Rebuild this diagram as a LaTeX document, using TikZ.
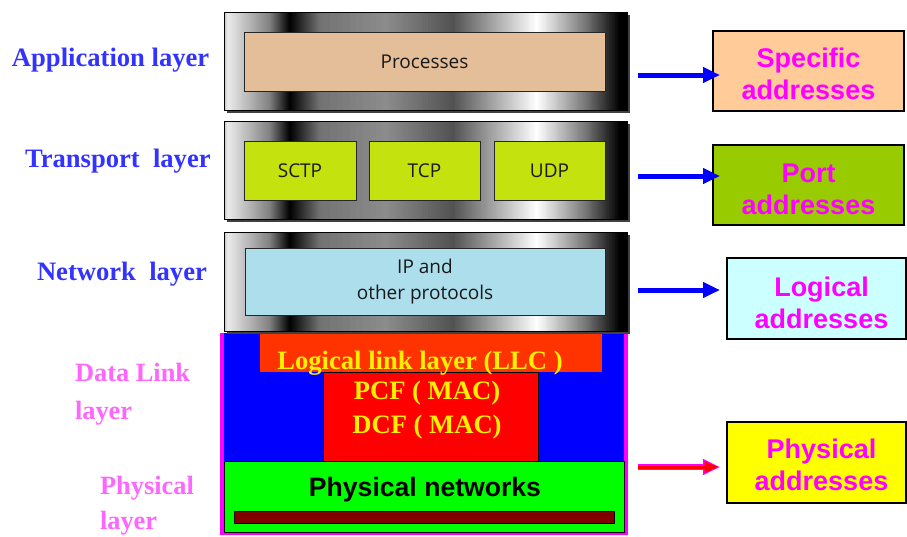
\documentclass[tikz,border=0pt]{standalone}
\usepackage{fontspec}
\setmainfont{Liberation Serif}
\newfontfamily\labelsans{Liberation Sans}
\newfontfamily\boxsans{Open Sans}
\usetikzlibrary{arrows.meta}

\definecolor{lblblue}{RGB}{51,51,255}
\definecolor{lblpink}{RGB}{255,102,255}
\definecolor{procfill}{RGB}{228,190,152}
\definecolor{transfill}{RGB}{196,226,14}
\definecolor{netfill}{RGB}{172,222,236}
\definecolor{llcorange}{RGB}{255,51,0}
\definecolor{barred}{RGB}{128,0,0}
\definecolor{specfill}{RGB}{255,204,153}
\definecolor{portfill}{RGB}{153,204,0}
\definecolor{logfill}{RGB}{204,255,255}
\definecolor{llctext}{RGB}{255,240,0}
\definecolor{pmag}{RGB}{255,0,255}
\definecolor{pyellow}{RGB}{255,255,0}
\definecolor{pblue}{RGB}{0,0,255}
\definecolor{pred}{RGB}{255,0,0}
\definecolor{pgreen}{RGB}{0,255,0}

% brushed-metal band between two heights, built from 1pt strips whose
% grey level is interpolated linearly between the listed stops
\newcommand{\metalband}[2]{%
  \foreach \xa/\xb/\ga/\gb in {%
    224/228/0.75/0.92, 228/270/0.92/0.50, 270/290/0.50/0.00,
    290/320/0.00/0.45, 320/386/0.45/0.55, 386/453/0.55/0.32,
    453/537/0.32/1.00, 537/587/1.00/0.45, 587/620/0.45/0.00,
    620/627/0.00/0.00}{%
    \pgfmathtruncatemacro\nstrip{\xb-\xa}%
    \foreach \i in {1,...,\nstrip}{%
      \pgfmathtruncatemacro\dk{round(100*(1-(\ga+(\gb-\ga)*(\i-0.5)/\nstrip)))}%
      \fill[black!\dk] (\xa+\i-1,#1) rectangle (\xa+\i+0.3,#2);
    }%
  }%
}

\begin{document}
\begin{tikzpicture}[x=1pt,y=-1pt,
  every node/.style={inner sep=0pt, outer sep=0pt},
  metalbox/.style={draw=black, line width=0.8pt, minimum width=403pt},
  dropshadow/.style={fill=black!75, minimum width=403pt},
  protobox/.style={draw=black!85, line width=0.9pt, text=black!90,
    font=\boxsans\fontsize{19}{26}\selectfont, align=center},
  layerlabel/.style={anchor=west, font=\bfseries\fontsize{26.6}{30}\selectfont},
  addrbox/.style={draw=black, line width=1.2pt},
  addrtext/.style={text=pmag, align=center,
    font=\labelsans\bfseries\fontsize{27}{32}\selectfont},
  arr/.style={draw=pblue, line width=5pt, -{Triangle[length=17pt,width=15pt]}},
  yellowtext/.style={text=llctext, font=\bfseries\fontsize{26.6}{34}\selectfont, align=center}
]
\useasboundingbox (0,0) rectangle (907,536);

% ---------------- data link + physical block ----------------
\node[fill=pmag, minimum width=408pt, minimum height=202pt] (dl) at (424,434) {};
\node[fill=pblue, minimum width=400pt, minimum height=128pt] (mac) at (424,397) {};
\node[fill=pgreen, draw=black, line width=0.6pt, minimum width=400pt, minimum height=71pt] (phy) at (424,496.5) {};
\node[font=\labelsans\bfseries\fontsize{26.6}{30}\selectfont] (phytext) at (425,490) {Physical networks};
\node[fill=barred, draw=black, line width=0.8pt, minimum width=380pt, minimum height=12pt] (bar) at (424,517) {};
\node[fill=pred, draw=black, line width=0.8pt, minimum width=215pt, minimum height=89pt] (pcf) at (430.5,416.5) {};
\node[yellowtext] (pcftext) at (427,410) {PCF ( MAC)\\DCF ( MAC)};
\node[fill=llcorange, minimum width=342pt, minimum height=39pt] (llc) at (431,352.5) {};
\node[yellowtext] (llctext) at (420,363) {Logical link layer (LLC )};

% ---------------- upper layers ----------------
\foreach \cy/\h/\nm in {61/98/app, 170/98/tra, 281.5/99/net} {
  \node[dropshadow, minimum height=\h pt] at (428.5,\cy+3) {};
  \metalband{\cy-\h/2}{\cy+\h/2}
  \node[metalbox, minimum height=\h pt] (\nm) at (425.5,\cy) {};
}
\node[protobox, fill=procfill, minimum width=361pt, minimum height=59pt] (proc) at (424.5,61.5) {Processes};
\node[protobox, fill=transfill, minimum width=112pt, minimum height=59pt] (sctp) at (300,170.5) {SCTP};
\node[protobox, fill=transfill, minimum width=111pt, minimum height=59pt] (tcp) at (424.5,170.5) {TCP};
\node[protobox, fill=transfill, minimum width=111pt, minimum height=59pt] (udp) at (549.5,170.5) {UDP};
\node[protobox, fill=netfill, minimum width=360pt, minimum height=67pt] (ip) at (425,281.5) {IP and\\other protocols};

% ---------------- layer names ----------------
\node[layerlabel, text=lblblue] (lapp) at (12,60) {Application layer};
\node[layerlabel, text=lblblue] (ltra) at (25,161) {Transport~~layer};
\node[layerlabel, text=lblblue] (lnet) at (37,274) {Network~~layer};
\node[layerlabel, text=lblpink, align=left, font=\bfseries\fontsize{26.4}{38}\selectfont] (ldl) at (75,394) {Data Link\\layer};
\node[layerlabel, text=lblpink, align=left, font=\bfseries\fontsize{26.4}{35}\selectfont] (lphy) at (100,506) {Physical\\layer};

% ---------------- address kinds ----------------
\node[addrbox, fill=specfill, minimum width=191pt, minimum height=80pt] (spec) at (808.5,71) {};
\node[addrbox, fill=portfill, minimum width=191pt, minimum height=80pt] (port) at (808.5,185) {};
\node[addrbox, fill=logfill, minimum width=179pt, minimum height=81pt] (logi) at (816.5,298.5) {};
\node[addrbox, fill=pyellow, minimum width=179pt, minimum height=81pt] (phys) at (816.5,462.5) {};
\node[addrtext] (spect) at ([yshift=-3pt]spec.center) {Specific\\addresses};
\node[addrtext] (portt) at ([yshift=-4pt]port.center) {Port\\addresses};
\node[addrtext] (logit) at ([xshift=5pt,yshift=-4.5pt]logi.center) {Logical\\addresses};
\node[addrtext] (physt) at ([xshift=5pt,yshift=-2.5pt]phys.center) {Physical\\addresses};

% ---------------- arrows ----------------
\coordinate (s1) at (638,75);
\coordinate (s2) at (638,176);
\coordinate (s3) at (638,290);
\coordinate (s4) at (638,467);
\draw[arr, shorten >=-7pt] (s1) -- (s1 -| spec.west);
\draw[arr, shorten >=-7pt] (s2) -- (s2 -| port.west);
\draw[arr, shorten >=7pt] (s3) -- (s3 -| logi.west);
\draw[arr, draw=pmag, line width=6pt, shorten >=7pt] (s4) -- (s4 -| phys.west);
\draw[arr, draw=pred, line width=3pt, -{Triangle[length=14pt,width=11pt]}, shorten >=8.5pt] (s4) -- (s4 -| phys.west);
\end{tikzpicture}
\end{document}
